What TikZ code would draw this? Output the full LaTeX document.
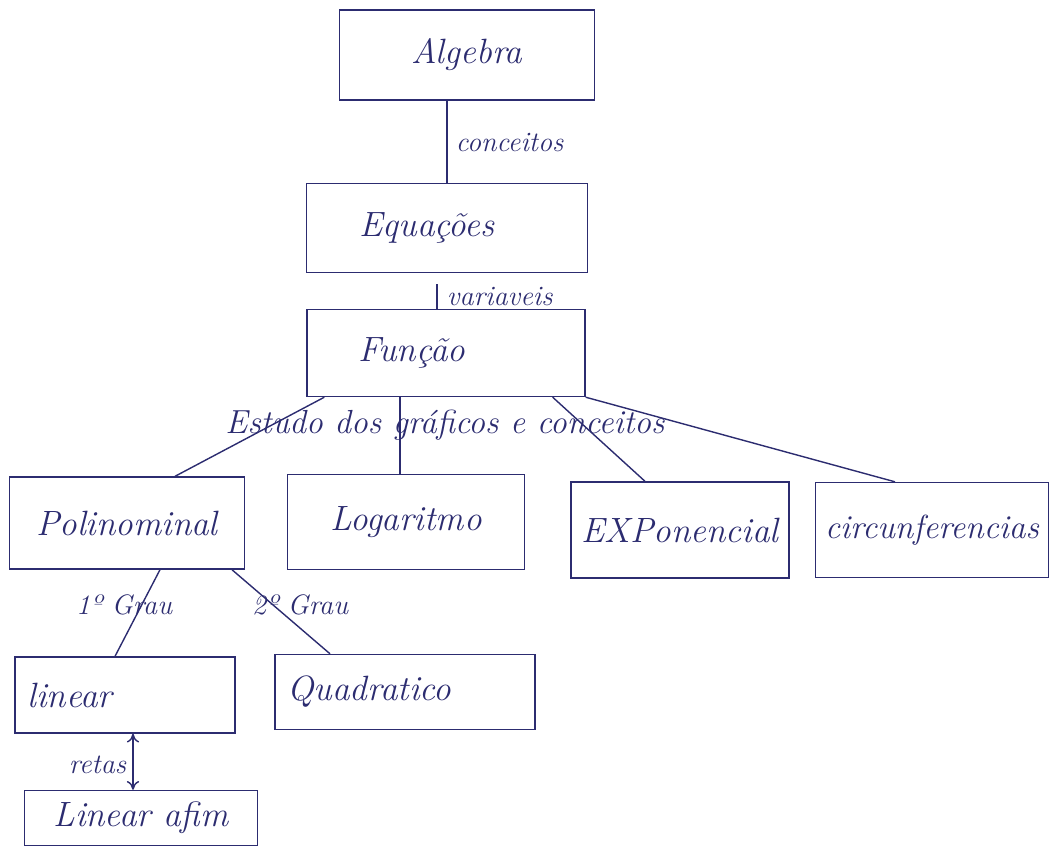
\documentclass[tikz,border=0pt]{standalone}
\usetikzlibrary{positioning,arrows.meta}
\definecolor{pen}{RGB}{44,44,112}
\begin{document}
\begin{tikzpicture}[x=0.02cm,y=-0.02cm,
        box/.style={draw=pen, thick, text=pen, inner sep=6pt,
            font=\fontsize{20}{24}\selectfont\itshape},
        lbl/.style={text=pen, inner sep=2pt,
            font=\fontsize{16}{19}\selectfont\itshape},
        line/.style={draw=pen, thick},
        >={To[length=5pt,width=7pt]}]
        \useasboundingbox (0,0) rectangle (1051,850);
        % boxes
        \node[box, minimum width=5.1cm, minimum height=1.8cm] (alg) at (467,55) {Algebra};
        \node[box, minimum width=5.62cm, minimum height=1.78cm, text width=5.1cm, align=left] (equ) at (447,228) {\hspace{0.8cm}Equações};
        \node[box, minimum width=5.56cm, minimum height=1.74cm, text width=5.1cm, align=left] (fun) at (446,353) {\hspace{0.8cm}Função};
        \node[box, minimum width=4.7cm, minimum height=1.84cm] (pol) at (127,523) {Polinominal};
        \node[box, minimum width=4.74cm, minimum height=1.9cm] (log) at (406,522) {Logaritmo};
        \node[box, minimum width=4.2cm, minimum height=1.92cm] (exp) at (680,530) {EXPonencial};
        \node[box, minimum width=4.66cm, minimum height=1.9cm, inner sep=2pt,
            font=\fontsize{19}{23}\selectfont\itshape] (cir) at (932,530) {circunferencias};
        \node[box, minimum width=4.4cm, minimum height=1.52cm, text width=3.9cm, align=left] (lin) at (125,695) {linear};
        \node[box, minimum width=5.2cm, minimum height=1.5cm, text width=4.7cm, align=left] (qua) at (405,692) {Quadratico};
        \node[box, minimum width=4.66cm, minimum height=1.1cm] (afi) at (141,818) {Linear afim};
        % links
        \draw[line] (equ.north) -- (equ.north |- alg.south);
        \node[lbl, anchor=west] (con) at (452,142) {conceitos};
        \coordinate (vtop) at (437,284);
        \draw[line] (vtop) -- (vtop |- fun.north);
        \node[lbl, anchor=west] (var) at (443,296) {variaveis};
        \node[lbl, font=\fontsize{19}{22}\selectfont\itshape] (est) at (445,425) {Estudo dos gráficos e conceitos};
        \draw[line] ([xshift=0.36cm]fun.south west) -- ([xshift=0.96cm]pol.north);
        \draw[line] ([xshift=-0.12cm]log.north) -- ([xshift=-0.12cm]log.north |- fun.south);
        \draw[line] ([xshift=-0.66cm]fun.south east) -- ([xshift=-0.7cm]exp.north);
        \draw[line] (fun.south east) -- ([xshift=-0.74cm]cir.north);
        \draw[line] ([xshift=0.66cm]pol.south) -- ([xshift=-0.2cm]lin.north);
        \draw[line] ([xshift=2.1cm]pol.south) -- ([xshift=-1.5cm]qua.north);
        \node[lbl] (gr1) at (124,605) {1º Grau};
        \node[lbl] (gr2) at (300,605) {2º Grau};
        \draw[line, <->] ([xshift=0.16cm]lin.south) -- ([xshift=0.16cm]lin.south |- afi.north);
        \node[lbl, anchor=east] (ret) at (130,765) {retas};
    \end{tikzpicture}
\end{document}
